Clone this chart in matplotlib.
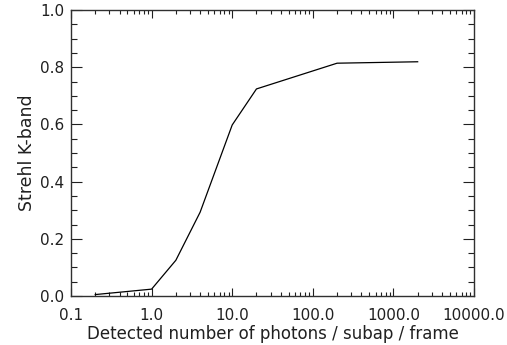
import matplotlib
matplotlib.use('Agg')
import matplotlib.pyplot as plt
from matplotlib.ticker import FixedLocator, NullFormatter, MultipleLocator

# photons / subap / frame vs Strehl (K band)
photons = [0.2, 1.0, 2.0, 4.0, 10.0, 20.0, 200.0, 2000.0]
strehl = [0.005, 0.024, 0.125, 0.293, 0.598, 0.724, 0.814, 0.819]

xticks = [0.1, 1.0, 10.0, 100.0, 1000.0, 10000.0]
xticklabels = ['0.1', '1.0', '10.0', '100.0', '1000.0', '10000.0']
yticks = [0.0, 0.2, 0.4, 0.6, 0.8, 1.0]
yticklabels = ['0.0', '0.2', '0.4', '0.6', '0.8', '1.0']

plt.rcParams['font.family'] = 'DejaVu Sans'
fig = plt.figure(figsize=(5.07, 3.45), dpi=100)
ax = fig.add_axes([71/507., 1-296/345., 403/507., 286/345.])

ax.plot(photons, strehl, color='k', linewidth=0.9)

ax.set_xscale('log')
ax.set_xlim(0.1, 10000.0)
ax.set_ylim(0.0, 1.0)

ax.xaxis.set_major_locator(FixedLocator(xticks))
ax.set_xticklabels(xticklabels)
minors = [m*10.0**e for e in range(-1, 4) for m in range(2, 10)]
ax.xaxis.set_minor_locator(FixedLocator(minors))
ax.xaxis.set_minor_formatter(NullFormatter())

ax.set_yticks(yticks)
ax.set_yticklabels(yticklabels)
ax.yaxis.set_minor_locator(MultipleLocator(0.05))

ax.tick_params(which='both', direction='in', top=True, right=True,
               labelsize=11, colors='#202020', width=0.8)
ax.tick_params(axis='x', which='major', length=5.5, pad=9)
ax.tick_params(axis='x', which='minor', length=2.8)
ax.tick_params(axis='y', which='major', length=8, pad=5)
ax.tick_params(axis='y', which='minor', length=4)

for s in ax.spines.values():
    s.set_linewidth(1.0)
    s.set_color('#303030')

ax.set_xlabel('Detected number of photons / subap / frame', fontsize=12,
              color='#202020', labelpad=1)
ax.set_ylabel('Strehl K-band', fontsize=12.5, color='#202020', labelpad=3)

fig.savefig('out.png', dpi=100)
